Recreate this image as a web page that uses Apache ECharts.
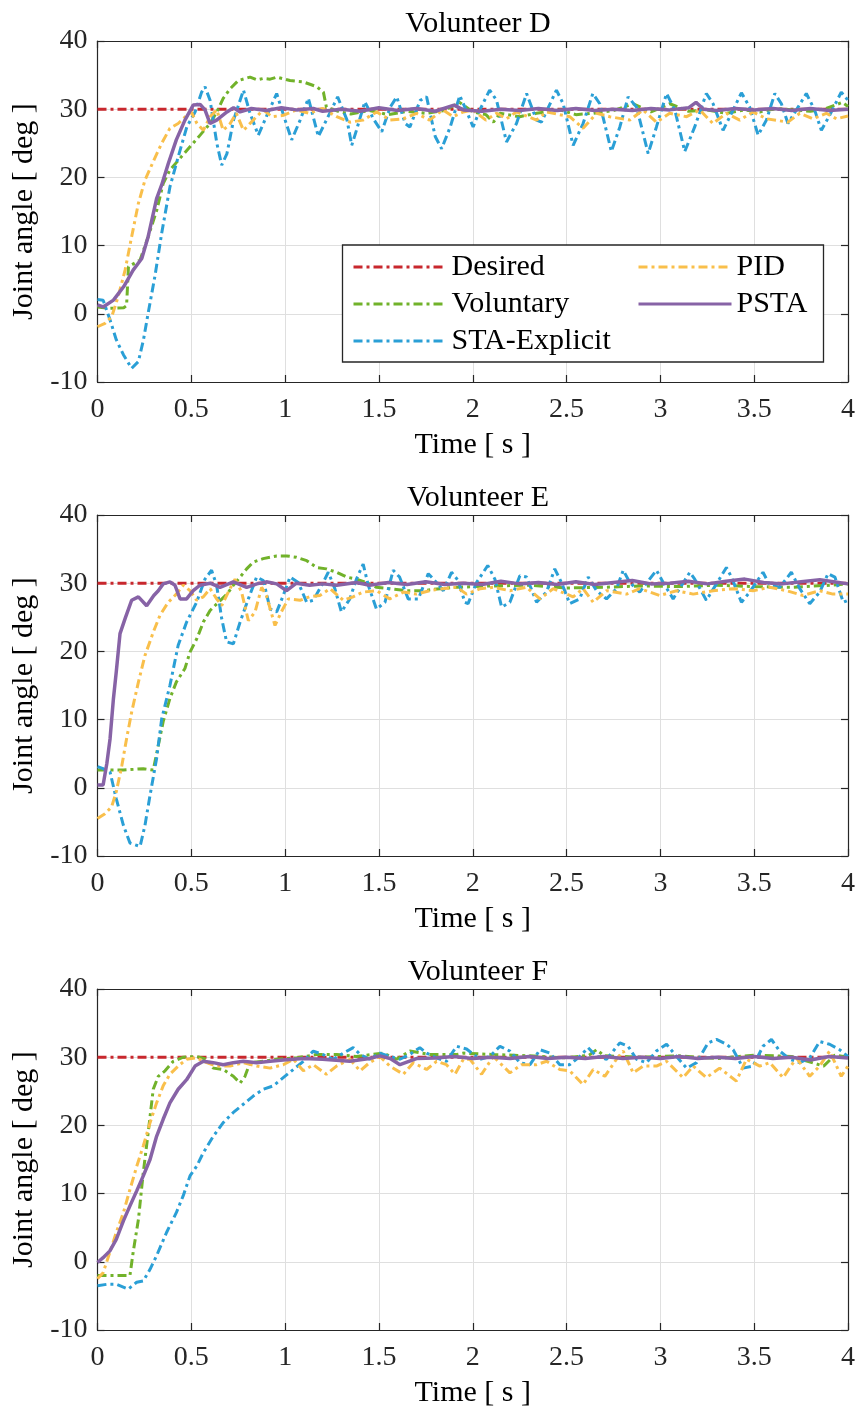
<!DOCTYPE html>
<html>
<head>
<meta charset="utf-8">
<script src="https://cdn.jsdelivr.net/npm/echarts@6/dist/echarts.min.js"></script>
<style>
  html, body { margin: 0; padding: 0; background: #fff; }
  #chart { width: 858px; height: 1415px; }
</style>
</head>
<body>
<div id="chart"></div>
<script>
// ---------- data (time [s], joint angle [deg]) ----------
const panelTitles = ['Volunteer D', 'Volunteer E', 'Volunteer F'];
const seriesNames = ['Desired', 'Voluntary', 'STA-Explicit', 'PID', 'PSTA'];
const xTicks = [0, 0.5, 1, 1.5, 2, 2.5, 3, 3.5, 4];
const yTicks = [-10, 0, 10, 20, 30, 40];

const desired = [[0, 30], [4, 30]];

// Volunteer D
const D_voluntary = [[0,1],[0.06,0.8],[0.14,0.9],[0.155,1.2],[0.165,6.9],[0.227,7.9],[0.27,11.3],[0.316,15.2],[0.35,19.1],[0.386,21.1],[0.44,22.8],[0.493,24.5],[0.547,26.2],[0.6,27.9],[0.636,29.6],[0.67,31.6],[0.707,33],[0.75,34.2],[0.813,34.7],[0.85,34.3],[0.883,34.5],[0.92,34.4],[0.955,34.7],[1.026,34.2],[1.097,34],[1.168,33.3],[1.204,32.5],[1.22,30.3],[1.29,29.6],[1.35,29.3],[1.45,29.8],[1.55,29.2],[1.65,29.7],[1.75,29.4],[1.85,29.8],[1.93,31],[2.0,29.6],[2.07,29.2],[2.11,28.1],[2.145,29.4],[2.25,28.9],[2.34,29.4],[2.464,29.9],[2.55,29.2],[2.64,29.4],[2.75,29.8],[2.855,30.8],[2.95,29.6],[3.05,30.8],[3.15,29.7],[3.245,29.9],[3.352,29.4],[3.45,29.9],[3.53,29.6],[3.62,30.1],[3.707,29.9],[3.8,29.7],[3.884,30.1],[3.97,31],[4,30.4]];
const D_sta = [[0,2.1],[0.03,2],[0.067,-0.9],[0.1,-3.8],[0.138,-6],[0.182,-8],[0.218,-7],[0.245,-3.8],[0.27,0.1],[0.306,5.5],[0.342,11.8],[0.386,18.6],[0.43,23],[0.476,27.4],[0.52,29.6],[0.555,32.5],[0.573,33.3],[0.6,31.3],[0.636,25],[0.662,21.8],[0.69,23.5],[0.725,28.4],[0.778,32.8],[0.813,29.4],[0.857,26.2],[0.9,28.9],[0.955,32.3],[1.0,28.4],[1.035,25.5],[1.08,28.4],[1.124,31.6],[1.177,26],[1.22,28.4],[1.28,31.8],[1.33,28.4],[1.355,24.7],[1.38,26.9],[1.425,31.1],[1.47,28.6],[1.515,26.7],[1.56,30.3],[1.595,31.8],[1.64,27.9],[1.665,27.4],[1.72,31.3],[1.754,31.8],[1.8,26],[1.834,24.2],[1.88,27.4],[1.931,32],[1.97,29.5],[2.002,27.4],[2.038,29.9],[2.09,32.8],[2.127,31.3],[2.18,25.2],[2.233,27.9],[2.287,32.3],[2.34,28.4],[2.366,28.1],[2.446,32.8],[2.482,30.8],[2.535,24.7],[2.588,27.9],[2.64,32.3],[2.677,30.8],[2.739,23.8],[2.784,27.4],[2.828,31.8],[2.873,30.3],[2.935,23.5],[2.979,27.4],[3.033,32.3],[3.077,29.9],[3.13,23.8],[3.183,27.4],[3.245,32.3],[3.281,30.8],[3.334,26.9],[3.37,28.9],[3.432,32.4],[3.476,30.3],[3.521,26.2],[3.565,28.4],[3.61,32.3],[3.645,30.8],[3.68,27.9],[3.725,29.9],[3.778,32.3],[3.822,29.9],[3.858,26.9],[3.902,29.1],[3.964,32.5],[4,31.3]];
const D_pid = [[0,-1.9],[0.04,-1.4],[0.076,-0.4],[0.11,2.5],[0.147,6.4],[0.182,11.3],[0.218,16.2],[0.253,19.6],[0.3,22.5],[0.342,25],[0.386,27.2],[0.43,27.9],[0.476,29.1],[0.5,29.6],[0.53,27.9],[0.564,26.9],[0.6,28.9],[0.636,29.9],[0.67,26.9],[0.707,27.9],[0.74,29.4],[0.778,26.9],[0.83,28.4],[0.883,29.9],[0.93,28.9],[0.99,29.1],[1.06,29.9],[1.13,29.4],[1.2,30.1],[1.275,28.9],[1.345,28.1],[1.415,28.4],[1.488,29.6],[1.56,28.4],[1.63,28.6],[1.7,29.4],[1.77,28.4],[1.84,29.9],[1.896,28.9],[1.95,29.6],[2.0,29.9],[2.07,28.4],[2.127,29.4],[2.18,28.6],[2.233,29.6],[2.34,28.4],[2.393,29.6],[2.517,28.9],[2.588,27.2],[2.66,29.4],[2.73,28.9],[2.837,28.4],[2.908,29.9],[2.979,28.1],[3.05,29.4],[3.14,28.9],[3.21,29.9],[3.28,27.9],[3.352,29.4],[3.423,28.4],[3.494,29.6],[3.565,28.6],[3.68,28.1],[3.743,29.4],[3.814,28.6],[3.884,29.4],[3.938,28.6],[4,29]];
const D_psta = [[0,1.3],[0.03,1.0],[0.085,2.0],[0.14,4],[0.19,6.4],[0.236,8.1],[0.27,11.3],[0.315,16.9],[0.342,18.9],[0.377,22],[0.42,25.5],[0.466,28.4],[0.51,30.6],[0.547,30.7],[0.573,29.9],[0.6,27.9],[0.635,28.4],[0.69,29.6],[0.725,30.2],[0.76,29.6],[0.82,30.1],[0.9,29.8],[0.98,30.2],[1.06,29.9],[1.15,30.1],[1.2,29.7],[1.3,30],[1.4,29.7],[1.5,30.2],[1.6,29.8],[1.7,30.1],[1.8,29.7],[1.9,30.6],[1.95,29.9],[2.05,29.7],[2.15,30],[2.25,29.8],[2.35,30.1],[2.45,29.8],[2.55,30.1],[2.65,29.8],[2.75,30],[2.85,29.8],[2.95,30.1],[3.05,29.9],[3.15,30.2],[3.19,31],[3.23,30],[3.3,29.8],[3.4,30.1],[3.5,29.9],[3.6,30.1],[3.7,29.8],[3.8,30.1],[3.9,29.8],[4,30]];

// Volunteer E
const E_voluntary = [[0,2.6],[0.138,2.6],[0.244,2.8],[0.297,2.6],[0.324,6.2],[0.35,9.7],[0.386,13.1],[0.42,15.5],[0.466,17.5],[0.493,19.9],[0.53,21.9],[0.564,24.3],[0.6,26],[0.644,27.2],[0.69,28.4],[0.724,29.7],[0.76,30.9],[0.795,32.1],[0.83,33.1],[0.883,33.6],[0.955,34],[1.008,34],[1.06,33.8],[1.115,33.3],[1.168,32.3],[1.22,32.1],[1.275,31.6],[1.328,30.9],[1.38,30.6],[1.434,30.1],[1.487,29.4],[1.558,29.2],[1.647,28.9],[1.736,28.9],[1.825,29.2],[1.914,29.4],[2.1,29.6],[2.3,29.7],[2.5,29.3],[2.7,29.4],[2.9,29.6],[3.1,29.5],[3.3,29.7],[3.5,29.5],[3.7,29.4],[3.9,29.7],[4,29.9]];
const E_sta = [[0,3.1],[0.03,2.8],[0.067,2.3],[0.1,-1.6],[0.138,-5.5],[0.173,-8.1],[0.227,-8.6],[0.253,-5.5],[0.28,-1.1],[0.315,4.3],[0.342,10.1],[0.386,15],[0.43,20.9],[0.475,24.3],[0.528,27.2],[0.573,30.6],[0.608,31.9],[0.635,29.7],[0.662,24.8],[0.688,21.4],[0.724,21.1],[0.76,24.3],[0.804,27.7],[0.848,30.9],[0.884,30.4],[0.92,26.2],[0.955,25.8],[0.99,28.2],[1.026,30.9],[1.07,30.1],[1.115,27.2],[1.15,27.5],[1.195,29.7],[1.23,31.6],[1.265,29.2],[1.3,25.8],[1.345,27.7],[1.38,30.6],[1.416,32.8],[1.443,29.7],[1.487,26.2],[1.532,27.2],[1.576,31.9],[1.61,30.9],[1.656,27.7],[1.71,27.7],[1.763,31.4],[1.807,30.1],[1.843,28.9],[1.887,31.6],[1.922,30.4],[1.958,27.2],[1.975,27],[2.02,30.1],[2.08,32.6],[2.118,30.6],[2.154,26.5],[2.198,27.2],[2.251,31.1],[2.287,30.9],[2.34,27.2],[2.393,28.7],[2.437,32.1],[2.473,30.1],[2.517,27],[2.57,27.7],[2.615,30.9],[2.66,28.9],[2.713,27.7],[2.766,29.2],[2.802,31.9],[2.837,30.1],[2.89,28.7],[2.979,31.9],[3.015,30.1],[3.068,27.7],[3.157,31.6],[3.183,30.6],[3.245,27.5],[3.299,29.9],[3.352,32.3],[3.379,30.9],[3.432,27.2],[3.476,28.7],[3.547,31.6],[3.583,29.7],[3.636,29.4],[3.698,31.6],[3.743,29.2],[3.796,27],[3.849,28.7],[3.894,31.4],[3.93,30.9],[3.975,27.2],[4,27.5]];
const E_pid = [[0,-4.5],[0.04,-3.8],[0.075,-2.8],[0.1,-0.6],[0.13,3.3],[0.155,7.2],[0.182,11.1],[0.218,15.5],[0.253,19.4],[0.297,22.8],[0.333,25.3],[0.377,27.2],[0.42,28.4],[0.457,29.7],[0.493,28.9],[0.528,27.5],[0.564,28],[0.6,29.2],[0.635,27.7],[0.662,26.7],[0.697,28.7],[0.733,30.6],[0.768,28.7],[0.804,24.5],[0.84,25.8],[0.875,29.4],[0.9,28.2],[0.946,23.8],[0.98,25.8],[1.017,27.7],[1.08,27.5],[1.13,28],[1.185,28.2],[1.24,29.2],[1.31,27.5],[1.362,28],[1.416,28.7],[1.487,28.9],[1.558,27.7],[1.63,28.7],[1.7,28.4],[1.77,28.9],[1.84,29.2],[1.914,29.4],[1.967,28.4],[2.04,29.2],[2.11,29.4],[2.198,28.9],[2.287,29.4],[2.358,27.7],[2.429,29.2],[2.535,28],[2.588,29.2],[2.642,27.2],[2.713,28.9],[2.82,28.4],[2.89,29.2],[2.997,28.2],[3.086,28.9],[3.175,28.4],[3.281,28.9],[3.388,29.2],[3.494,28.9],[3.583,29.4],[3.672,28.9],[3.76,28.2],[3.849,28.9],[3.92,28.4],[4,28.4]];
const E_psta = [[0,0.4],[0.03,0.4],[0.05,3.6],[0.067,7.2],[0.085,13.1],[0.1,17],[0.12,22.6],[0.147,24.8],[0.182,27.5],[0.218,28],[0.262,26.7],[0.3,28.2],[0.324,28.9],[0.35,29.9],[0.386,30.2],[0.413,29.7],[0.44,27.7],[0.475,27.7],[0.51,28.9],[0.546,29.7],[0.6,30],[0.653,29.4],[0.724,30.2],[0.795,29.4],[0.85,29.9],[0.9,30.2],[0.955,29.9],[1.008,28.9],[1.06,30],[1.13,29.7],[1.2,29.9],[1.275,29.7],[1.38,30.1],[1.45,29.7],[1.55,30.1],[1.65,29.8],[1.75,30.2],[1.85,29.8],[1.95,30],[2.05,29.8],[2.15,30.3],[2.25,29.9],[2.35,30.1],[2.45,29.8],[2.55,30.2],[2.65,29.8],[2.75,30.1],[2.85,30.4],[2.95,29.9],[3.05,30],[3.15,30.3],[3.25,29.9],[3.35,30.3],[3.45,30.6],[3.55,30.1],[3.65,29.9],[3.75,30.2],[3.85,30.5],[3.95,30.1],[4,29.9]];

// Volunteer F
const F_voluntary = [[0,-2],[0.067,-2],[0.173,-2],[0.19,1.4],[0.218,6.2],[0.244,13.1],[0.27,18.9],[0.297,25.3],[0.324,27.2],[0.36,28],[0.404,29.4],[0.457,30],[0.528,30.1],[0.582,29.7],[0.617,28.4],[0.67,28.2],[0.724,27.2],[0.76,26.2],[0.786,27.2],[0.813,29.2],[0.883,29.4],[0.955,29.7],[1.06,29.9],[1.168,30.4],[1.275,30.4],[1.38,30.1],[1.523,30.6],[1.594,29.7],[1.665,30.9],[1.77,30.4],[1.914,30.4],[1.95,30.6],[2.1,30.4],[2.3,30.2],[2.5,29.9],[2.62,30.3],[2.66,31.1],[2.7,30.2],[2.9,30],[3.1,30.2],[3.3,29.8],[3.5,30.3],[3.7,30.1],[3.87,28.7],[3.93,30.3],[4,30]];
const F_sta = [[0,-3.5],[0.05,-3.3],[0.1,-3.3],[0.164,-4],[0.209,-3],[0.244,-2.8],[0.28,-1.1],[0.315,0.9],[0.368,4.3],[0.42,7.2],[0.457,9.7],[0.493,12.6],[0.528,14],[0.564,16],[0.617,18.4],[0.67,20.4],[0.724,21.9],[0.777,23.1],[0.83,24.3],[0.884,25.3],[0.937,25.8],[0.99,27],[1.044,28.2],[1.097,29.4],[1.15,30.9],[1.2,30.4],[1.256,29.7],[1.31,30.6],[1.363,31.4],[1.4,30.4],[1.45,29.7],[1.505,30.6],[1.56,30.1],[1.612,29.7],[1.665,30.4],[1.718,31.4],[1.754,30.6],[1.807,29.9],[1.86,29.4],[1.914,31.6],[1.967,31.2],[2.038,29.7],[2.09,30.1],[2.145,31.6],[2.198,30.9],[2.251,29.2],[2.305,28.9],[2.358,31.1],[2.411,30.6],[2.464,28.9],[2.517,28.9],[2.57,30.1],[2.615,31.4],[2.66,30.1],[2.713,29.7],[2.784,32.1],[2.828,31.6],[2.873,29.7],[2.926,29.2],[2.979,30.9],[3.033,31.9],[3.086,30.1],[3.14,28.4],[3.193,29.2],[3.254,32.1],[3.299,32.6],[3.352,31.9],[3.388,31.1],[3.441,28.4],[3.494,28.7],[3.547,31.6],[3.592,32.6],[3.636,30.9],[3.69,29.7],[3.743,29.2],[3.796,29.9],[3.849,32.3],[3.902,31.9],[3.955,31.1],[4,30.1]];
const F_pid = [[0,-2.5],[0.03,-1.6],[0.066,1.4],[0.1,4.3],[0.138,7.2],[0.173,10.6],[0.209,14],[0.244,17],[0.28,20.4],[0.315,23.3],[0.35,25.8],[0.386,27.5],[0.43,28.7],[0.475,29.7],[0.528,29.9],[0.582,29.2],[0.635,28.7],[0.706,28.7],[0.777,29.2],[0.848,28.7],[0.92,28.4],[0.99,28.9],[1.044,29.7],[1.097,28],[1.15,28.9],[1.22,27.5],[1.274,28.7],[1.345,29.7],[1.4,28],[1.45,29.2],[1.505,30.1],[1.558,28.7],[1.63,27.5],[1.683,29.2],[1.754,28.2],[1.807,29.4],[1.86,28.9],[1.905,27.5],[1.95,29.7],[1.985,29.7],[2.047,27.5],[2.11,30.1],[2.198,27.7],[2.26,28.9],[2.34,28.9],[2.393,29.4],[2.464,28.2],[2.517,28],[2.588,26],[2.642,28.2],[2.704,27.2],[2.766,29.7],[2.802,30.9],[2.855,27.7],[2.908,28.7],[2.979,28.7],[3.033,29.4],[3.121,27],[3.175,28.7],[3.245,27],[3.316,28.4],[3.405,26.5],[3.459,29.7],[3.53,28.7],[3.583,29.2],[3.654,27],[3.725,29.9],[3.796,27.2],[3.849,28.7],[3.902,30.9],[3.964,27.2],[4,28.7]];
const F_psta = [[0,-0.1],[0.03,0.6],[0.066,1.6],[0.1,3.3],[0.138,6],[0.173,8.2],[0.209,10.4],[0.244,12.6],[0.28,15],[0.315,18.4],[0.35,20.9],[0.386,23.3],[0.43,25.3],[0.475,26.7],[0.52,28.7],[0.564,29.4],[0.617,29.2],[0.67,28.9],[0.724,29.2],[0.777,29.4],[0.848,29.2],[0.92,29.4],[0.99,29.6],[1.097,29.8],[1.2,29.7],[1.345,29.4],[1.45,29.8],[1.505,30.2],[1.56,29.8],[1.612,28.9],[1.7,29.8],[1.8,29.9],[1.9,30.1],[2.0,29.8],[2.1,30],[2.2,29.8],[2.3,30.1],[2.4,29.8],[2.5,30],[2.6,29.8],[2.7,30.1],[2.8,29.8],[2.9,30],[3.0,29.8],[3.1,30.1],[3.2,29.8],[3.3,30],[3.4,29.8],[3.5,30.1],[3.6,29.8],[3.7,30],[3.8,29.6],[3.9,30.1],[4,29.9]];

const panelData = [
  [desired, D_voluntary, D_sta, D_pid, D_psta],
  [desired, E_voluntary, E_sta, E_pid, E_psta],
  [desired, F_voluntary, F_sta, F_pid, F_psta]
];

// ---------- styles ----------
const colors = ['#c8272d', '#71b22a', '#2a9fd6', '#f9bf4b', '#8763a6'];
const dashDot = [9, 4, 3, 4];
const lineTypes = [dashDot, dashDot, dashDot, dashDot, 'solid'];
const lineWidths = [3, 3, 3, 3, 3.5];
const FONT = '"Liberation Serif", "Times New Roman", serif';
const AX = '#262626';
const gridTops = [41, 515, 989];
const GRID_LEFT = 97.5, GRID_W = 751, GRID_H = 341;

const grids = [], xAxes = [], yAxes = [], series = [], titles = [];
gridTops.forEach((top, p) => {
  grids.push({ left: GRID_LEFT, top: top, width: GRID_W, height: GRID_H });
  titles.push({
    text: panelTitles[p], left: GRID_LEFT + GRID_W / 2, top: top - 37, textAlign: 'center',
    textStyle: { fontFamily: FONT, fontSize: 30, fontWeight: 'normal', color: '#000' }
  });
  const xBase = { type: 'value', gridIndex: p, min: 0, max: 4, interval: 0.5,
    axisLine: { show: true, onZero: false, lineStyle: { color: AX, width: 1.2 } },
    axisTick: { show: true, inside: true, length: 7, lineStyle: { color: AX, width: 1.2 } } };
  xAxes.push(Object.assign({}, xBase, {
    position: 'bottom',
    name: 'Time [ s ]', nameLocation: 'middle', nameGap: 48,
    nameTextStyle: { fontFamily: FONT, fontSize: 30, color: '#000' },
    axisLabel: { show: true, margin: 14, fontFamily: FONT, fontSize: 28, color: AX,
      formatter: v => String(v) },
    splitLine: { show: true, lineStyle: { color: '#dfdfdf', width: 1 } }
  }));
  xAxes.push(Object.assign({}, xBase, {
    position: 'top', axisLabel: { show: false }, splitLine: { show: false }
  }));
  const yBase = { type: 'value', gridIndex: p, min: -10, max: 40, interval: 10,
    axisLine: { show: true, onZero: false, lineStyle: { color: AX, width: 1.2 } },
    axisTick: { show: true, inside: true, length: 7, lineStyle: { color: AX, width: 1.2 } } };
  yAxes.push(Object.assign({}, yBase, {
    position: 'left',
    name: 'Joint angle [ deg ]', nameLocation: 'middle', nameGap: 56,
    nameTextStyle: { fontFamily: FONT, fontSize: 30, color: '#000' },
    axisLabel: { show: true, margin: 10, fontFamily: FONT, fontSize: 28, color: AX },
    splitLine: { show: true, lineStyle: { color: '#dfdfdf', width: 1 } }
  }));
  yAxes.push(Object.assign({}, yBase, {
    position: 'right', axisLabel: { show: false }, splitLine: { show: false }
  }));
  panelData[p].forEach((d, i) => {
    series.push({
      name: seriesNames[i], type: 'line', data: d,
      xAxisIndex: 2 * p, yAxisIndex: 2 * p,
      symbol: 'none', showSymbol: false, animation: false, z: 2 + i * 0.1,
      lineStyle: { color: colors[i], width: lineWidths[i], type: lineTypes[i] },
      itemStyle: { color: colors[i] }
    });
  });
});

const legendText = { fontFamily: FONT, fontSize: 30, color: '#000' };
const legendBase = { orient: 'vertical', top: 252, padding: 0,
  itemWidth: 93, itemHeight: 14, itemGap: 7, textStyle: legendText,
  itemStyle: { opacity: 0 }, lineStyle: { width: 3 }, selectedMode: false, z: 10 };
const option = {
  backgroundColor: '#fff',
  animation: false,
  title: titles,
  grid: grids,
  xAxis: xAxes,
  yAxis: yAxes,
  legend: [
    Object.assign({ data: ['Desired', 'Voluntary', 'STA-Explicit'], left: 352 }, legendBase),
    Object.assign({ data: ['PID', 'PSTA'], left: 637 }, legendBase)
  ],
  graphic: [
    { type: 'rect', z: 5, shape: { x: 342.5, y: 245, width: 481, height: 117 },
      style: { fill: '#fff', stroke: '#262626', lineWidth: 1.3 } }
  ],
  series: series
};

const chart = echarts.init(document.getElementById('chart'), null, { renderer: 'canvas' });
chart.setOption(option);
</script>
</body>
</html>
